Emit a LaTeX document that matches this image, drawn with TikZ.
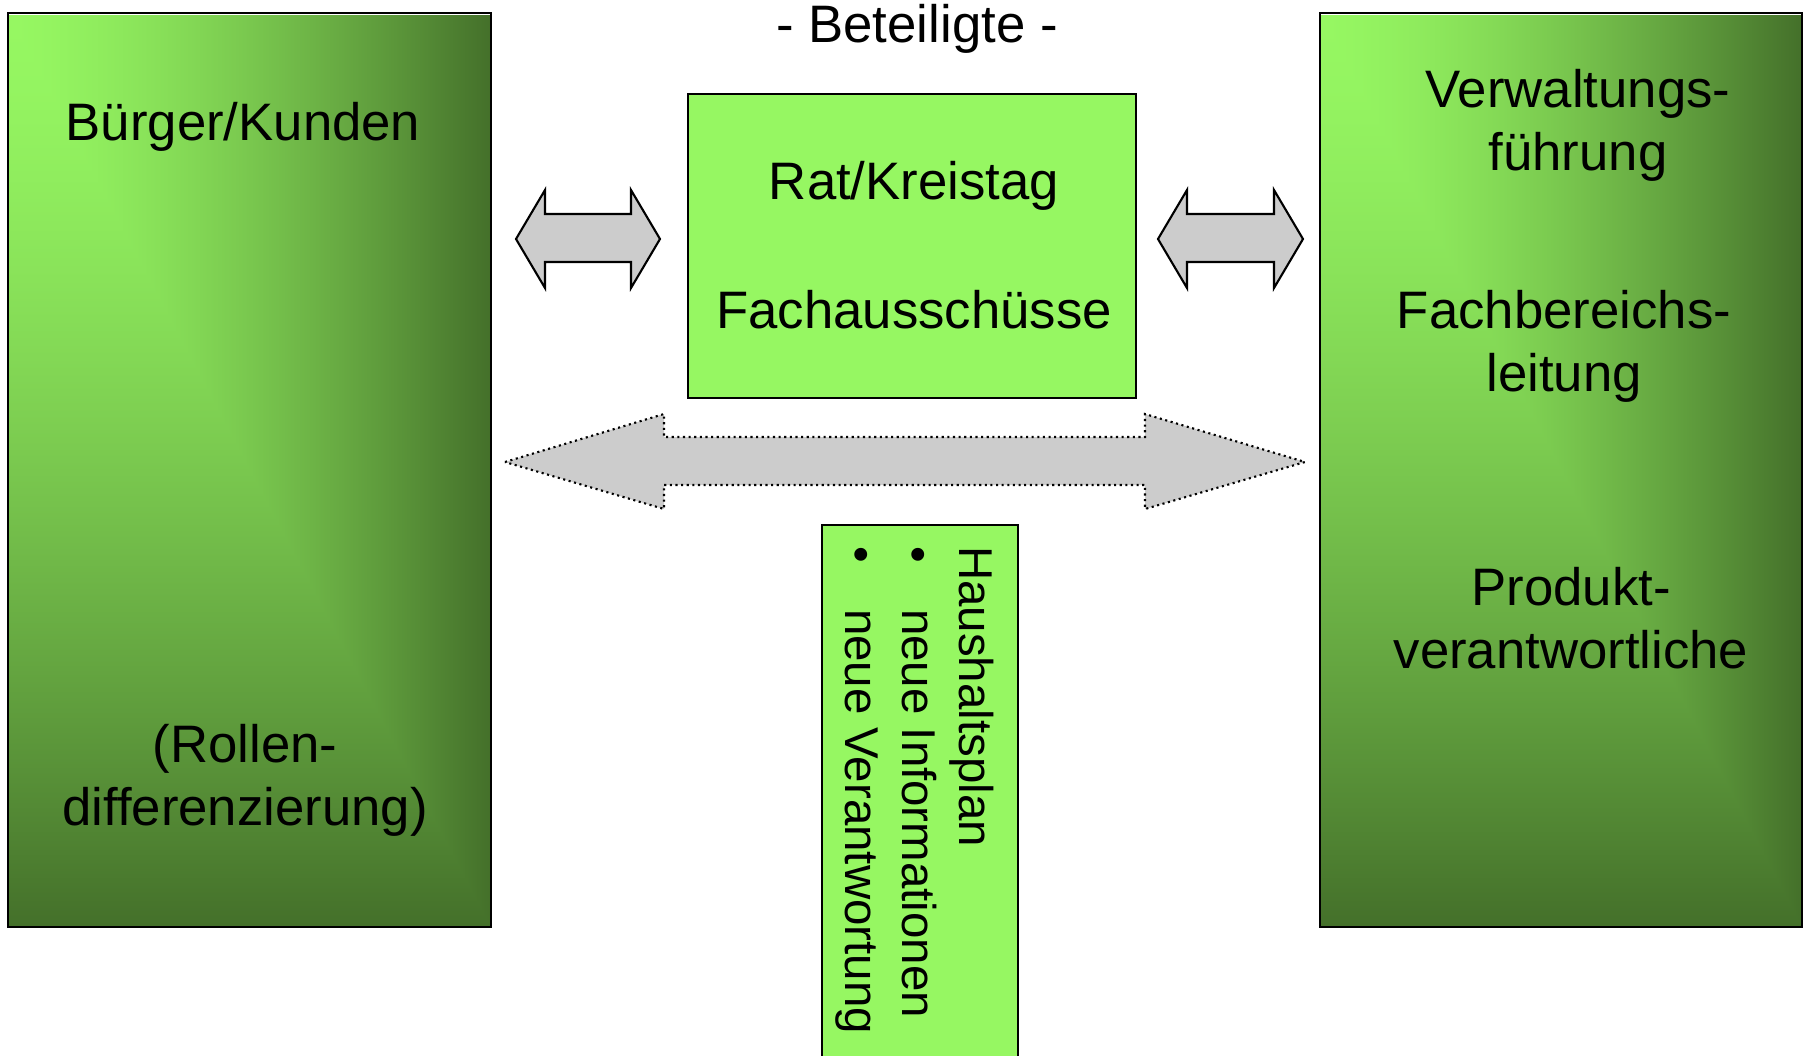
\documentclass[tikz,border=0pt]{standalone}
\usepackage{fontspec}
\setmainfont{Liberation Sans}
\usetikzlibrary{positioning}

\definecolor{hellgruen}{RGB}{150,247,98}
\definecolor{pfeilgrau}{RGB}{204,204,204}

% bright in the upper left corner, dark towards right and bottom
% (size of the two big columns: 4.81cm x 9.12cm)
\pgfdeclarefunctionalshading{eckverlauf}{\pgfpoint{0bp}{0bp}}{\pgfpoint{136.35bp}{258.52bp}}{}{
  258.52 exch sub 258.52 div
  exch 136.35 div
  2 copy lt {exch} if pop
  dup 0 lt {pop 0} if
  dup 1 gt {pop 1} if
  dup sqrt mul
  dup dup
  -0.321 mul 0.588 add 3 1 roll
  -0.530 mul 0.969 add exch
  -0.219 mul 0.384 add
}

\begin{document}
\begin{tikzpicture}[
    font=\fontsize{15}{18}\selectfont,
    spalte/.style={inner sep=0pt},
    rahmen/.style={draw=black, line width=0.6pt},
    kasten/.style={draw=black, line width=0.6pt, fill=hellgruen},
    klein/.style={draw=black, line width=0.6pt, fill=pfeilgrau},
    gross/.style={draw=black, line width=0.6pt, densely dotted, fill=pfeilgrau},
  ]
  \useasboundingbox (0,0) rectangle (18.03,-10.56);

  \node[spalte](kunden) at (2.495,-4.70) {\pgfuseshading{eckverlauf}};
  \node[spalte](verwaltung) at (15.61,-4.70) {\pgfuseshading{eckverlauf}};
  \draw[rahmen] (kunden.south west) rectangle (kunden.north east);
  \draw[rahmen] (verwaltung.south west) rectangle (verwaltung.north east);
  \node[kasten, minimum width=4.48cm, minimum height=3.04cm](rat) at (9.12,-2.46) {};
  \draw[kasten] (8.22,-5.25) rectangle (10.18,-10.90);

  \node(titel) at (9.17,-0.29) {- Beteiligte -};

  \node(buerger) at (2.43,-1.27) {Bürger/Kunden};
  \node[align=center](rollen) at (2.45,-7.80) {(Rollen-\\differenzierung)};

  \node(kreistag) at (9.14,-1.86) {Rat/Kreistag};
  \node(ausschuss) at (9.14,-3.10) {Fachausschüsse};

  \node[align=center](fuehrung) at (15.78,-1.25) {Verwaltungs-\\führung};
  \node[align=center](leitung) at (15.64,-3.46) {Fachbereichs-\\leitung};
  \node[align=center](produkt) at (15.71,-6.18) {Produkt-\\verantwortliche};

  \node[rotate=-90, align=left, inner sep=0pt, font=\fontsize{13.5}{16.2}\selectfont](haushalt) at (9.15,-7.90)
    {Haushaltsplan\\\makebox[0.63cm][l]{\textbullet}neue Informationen\\\makebox[0.63cm][l]{\textbullet}neue Verantwortung};

  % block arrows
  \draw[klein] (5.16,-2.39) -- (5.45,-1.90) -- (5.45,-2.14) -- (6.31,-2.14) -- (6.31,-1.90)
    -- (6.60,-2.39) -- (6.31,-2.88) -- (6.31,-2.62) -- (5.45,-2.62) -- (5.45,-2.88) -- cycle;
  \draw[klein] (11.58,-2.39) -- (11.87,-1.90) -- (11.87,-2.14) -- (12.74,-2.14) -- (12.74,-1.90)
    -- (13.03,-2.39) -- (12.74,-2.88) -- (12.74,-2.62) -- (11.87,-2.62) -- (11.87,-2.88) -- cycle;
  \draw[gross] (5.05,-4.62) -- (6.64,-4.14) -- (6.64,-4.37) -- (11.45,-4.37) -- (11.45,-4.14)
    -- (13.05,-4.62) -- (11.45,-5.09) -- (11.45,-4.85) -- (6.64,-4.85) -- (6.64,-5.09) -- cycle;
\end{tikzpicture}
\end{document}
